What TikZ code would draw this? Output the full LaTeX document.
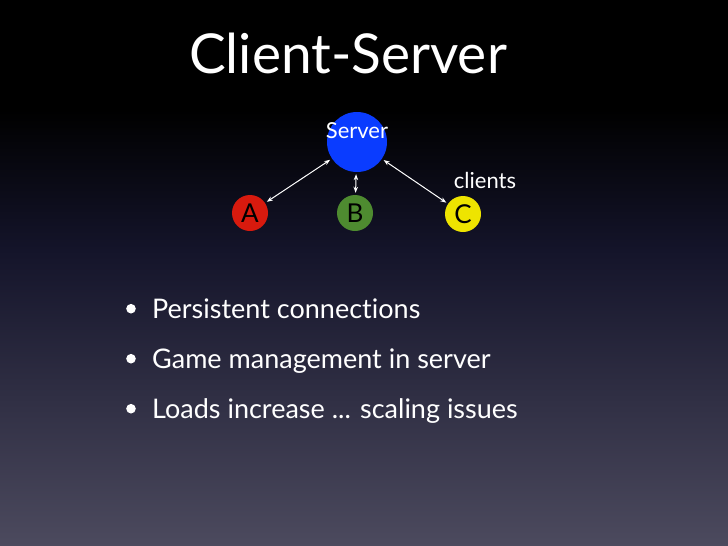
\documentclass[tikz,border=0pt]{standalone}
\usepackage{fontspec}
\setmainfont{Lato}[Ligatures=NoCommon]
\usetikzlibrary{positioning,arrows.meta}
\definecolor{bgtop}{HTML}{000000}
\definecolor{bgmid}{HTML}{14142A}
\definecolor{bgbot}{HTML}{4C4A5E}
\definecolor{srvfill}{HTML}{0A3CFF}
\definecolor{afill}{HTML}{D81A0E}
\definecolor{bfill}{HTML}{4E8B30}
\definecolor{cfill}{HTML}{EEE400}
\tikzset{
  peer/.style={circle, minimum size=36pt, inner sep=0pt, text=black,
               font=\fontsize{26}{26}\selectfont},
  srv/.style={circle, fill=srvfill, minimum size=60pt, inner sep=0pt},
  link/.style={{Stealth[length=6pt,width=4.5pt]}-{Stealth[length=6pt,width=4.5pt]},
               draw=white, line width=1pt, shorten <=2pt, shorten >=2pt},
  point/.style={anchor=base west, text=white, inner sep=0pt,
                font=\fontsize{27}{27}\selectfont},
}
\newcommand{\dotitem}{\makebox[26pt][l]{\raisebox{4.5pt}{\tikz\fill[white] circle (4.8pt);}}}

\begin{document}
\begin{tikzpicture}[x=1pt,y=-1pt]
  \useasboundingbox (0,0) rectangle (728,546);
  % slide background
  \fill[bgtop] (0,0) rectangle (728,546);
  \shade[top color=bgtop, bottom color=bgmid] (0,110) rectangle (728,250);
  \shade[top color=bgmid, bottom color=bgbot] (0,250) rectangle (728,546);
  % title
  \node[anchor=base, text=white, inner sep=0pt, font=\fontsize{55}{55}\selectfont] (title) at (348,73) {Client-Server};
  % server and clients
  \node[srv, label={[text=white, yshift=11pt, font=\fontsize{22}{22}\selectfont]center:Server}] (server) at (357,142) {};
  \node[peer, fill=afill] (a) at (250,213) {A};
  \node[peer, fill=bfill] (b) at (355,213) {B};
  \node[peer, fill=cfill] (c) at (463,214) {C};
  \node[text=white, inner sep=0pt, font=\fontsize{22}{22}\selectfont] (clients) at (485,180) {clients};
  \foreach \p in {a,b,c}{
    \draw[link] (\p) -- (server);}
  % bullet points
  \node[point] (p1) at (126,318) {\dotitem Persistent connections};
  \node[point] (p2) at (126,368) {\dotitem Game management in server};
  \node[point] (p3) at (126,418) {\dotitem Loads increase ... scaling issues};
\end{tikzpicture}
\end{document}
